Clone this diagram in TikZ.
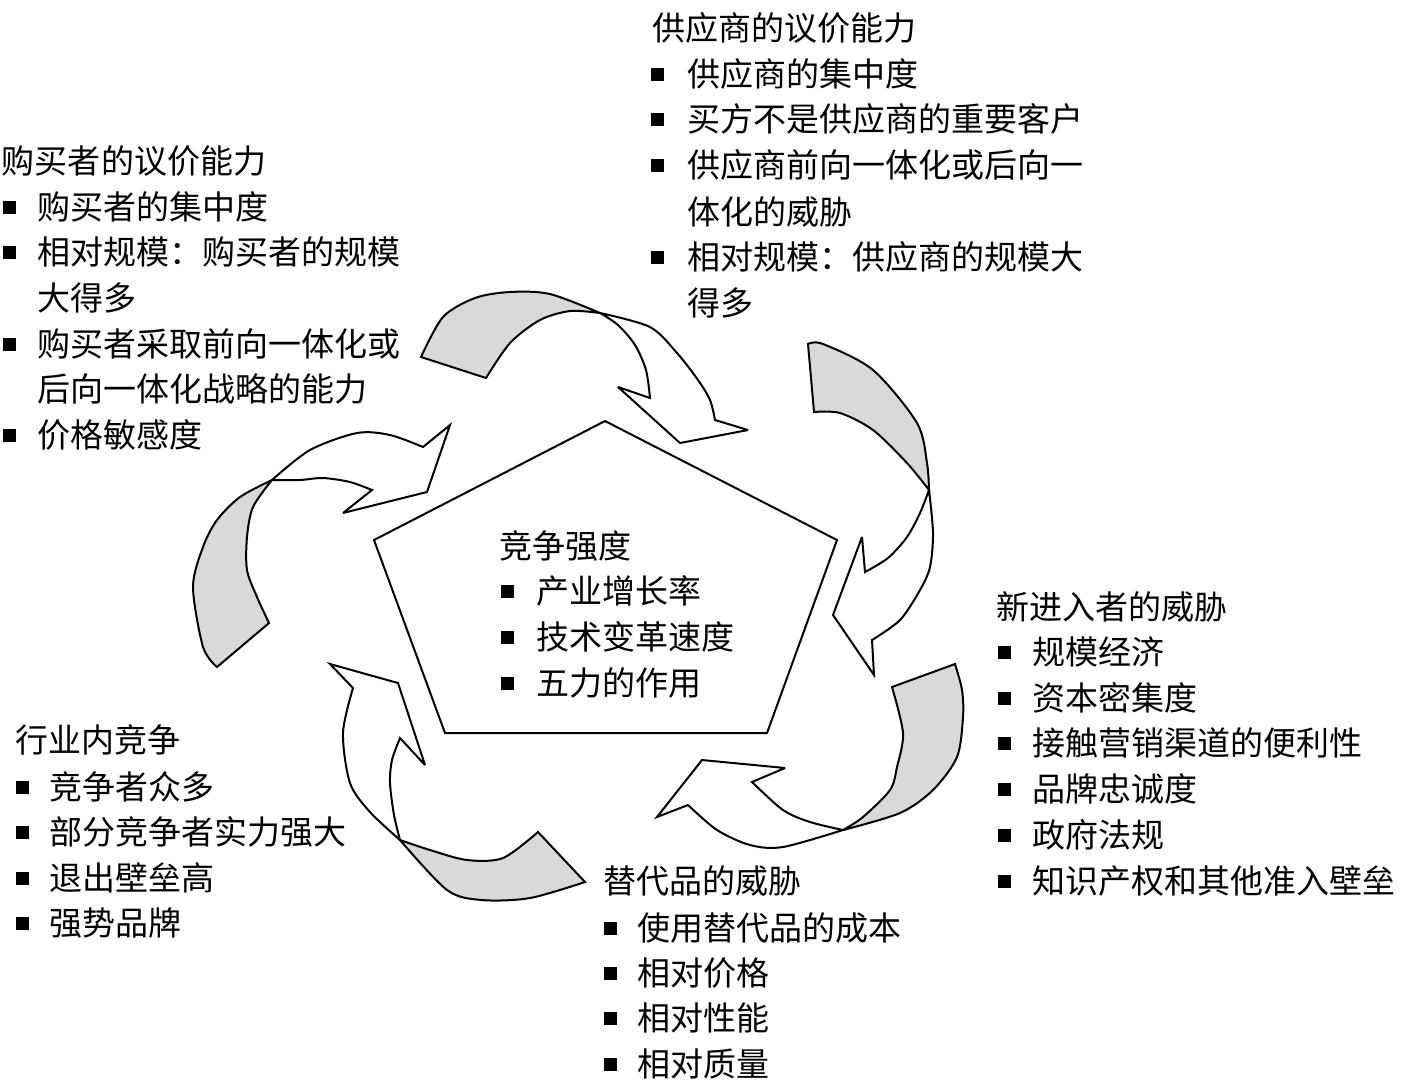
\documentclass[tikz,border=0pt]{standalone}
\usepackage{fontspec}
\setmainfont{Noto Sans CJK SC}
\definecolor{bandgrey}{RGB}{216,218,218}
\newcommand\sqb[1][17.5pt]{\makebox[#1][l]{\rule[3pt]{6.5pt}{6.5pt}}}
\begin{document}
\begin{tikzpicture}[x=0.5pt,y=-0.5pt,line width=1pt,miter limit=4,
  txt/.style={anchor=west,inner sep=0pt,font=\fontsize{16.5pt}{20pt}\selectfont,text height=14.5pt,text depth=2pt},
  band/.style={draw=black,fill=bandgrey},
  body/.style={draw=black,fill=white},
  pent/.style={draw=black}]
\useasboundingbox (0,0) rectangle (1406,1089);

% central pentagon
\coordinate (p1) at (605,421);
\coordinate (p2) at (837,540);
\coordinate (p3) at (767,733);
\coordinate (p4) at (445,733);
\coordinate (p5) at (374,540);
\draw[pent] (p1) -- (p2) -- (p3) -- (p4) -- (p5) -- cycle;

% arrow A (top)
\filldraw[band] (421,357) -- plot[smooth] coordinates {(421,357) (443,317) (475,298) (510,292) (550,294) (600,313)}
  -- plot[smooth] coordinates {(600,313) (570,311) (540,320) (510,343) (486,378)} -- cycle;
\filldraw[body] (600,313) -- plot[smooth] coordinates {(600,313) (650,327) (677,353) (698,380) (710,400) (715,420)}
  -- (748,430) -- (680,443) -- (618,387) -- (650,398)
  -- plot[smooth] coordinates {(650,398) (646,370) (635,345) (618,325) (600,313)} -- cycle;

% arrow B (right)
\filldraw[band] (808,344) -- plot[smooth] coordinates {(808,344) (823,344) (873,370) (917,423) (927,463) (929,490)}
  -- plot[smooth] coordinates {(929,490) (907,463) (873,430) (840,413) (814,412)} -- cycle;
\filldraw[body] (929,490) -- plot[smooth] coordinates {(929,490) (933,533) (930,567) (920,590) (900,620) (872,640)}
  -- (874,675) -- (833,615) -- (862,537) -- (865,572)
  -- plot[smooth] coordinates {(865,572) (888,558) (907,537) (920,513) (929,490)} -- cycle;

% arrow C (bottom right)
\filldraw[band] (955,664) -- plot[smooth] coordinates {(955,664) (962,690) (963,717) (957,757) (933,790) (900,813) (843,830)}
  -- plot[smooth] coordinates {(843,830) (863,817) (890,790) (897,767) (903,733) (892,687)} -- cycle;
\filldraw[body] (843,830) -- plot[smooth] coordinates {(843,830) (783,847) (750,845) (717,830) (688,805)}
  -- (657,817) -- (702,760) -- (785,768) -- (752,782)
  -- plot[smooth] coordinates {(752,782) (783,810) (810,822) (843,830)} -- cycle;

% arrow D (bottom left)
\filldraw[band] (538,832) -- plot[smooth] coordinates {(538,832) (503,858) (467,860) (430,850) (400,840)}
  -- plot[smooth] coordinates {(400,840) (447,890) (482,900) (530,898) (585,882)} -- cycle;
\filldraw[body] (400,840) -- plot[smooth] coordinates {(400,840) (370,812) (350,783) (343,733) (353,688)}
  -- (330,664) -- (398,683) -- (425,765) -- (400,738)
  -- plot[smooth] coordinates {(400,738) (392,760) (390,783) (394,815) (400,840)} -- cycle;

% arrow E (left)
\filldraw[band] (217,667) -- plot[smooth] coordinates {(217,667) (203,647) (193,587) (203,547) (217,520) (240,497) (272,480)}
  -- plot[smooth] coordinates {(272,480) (253,507) (247,537) (247,570) (257,597) (269,623)} -- cycle;
\filldraw[body] (272,480) -- plot[smooth] coordinates {(272,480) (310,450) (357,433) (390,435) (423,447)}
  -- (450,425) -- (427,492) -- (343,513) -- (372,490)
  -- plot[smooth] coordinates {(372,490) (350,482) (323,478) (300,480) (272,480)} -- cycle;

% supplier
\node[txt] (s0) at (651,28) {供应商的议价能力};
\node[txt] (s1) at (650,74) {\sqb[18.25pt]供应商的集中度};
\node[txt] (s2) at (650,119) {\sqb[18.25pt]买方不是供应商的重要客户};
\node[txt] (s3) at (650,165) {\sqb[18.25pt]供应商前向一体化或后向一};
\node[txt] (s3b) at (686,212) {体化的威胁};
\node[txt] (s4) at (650,257) {\sqb[18.25pt]相对规模：供应商的规模大};
\node[txt] (s4b) at (686,303) {得多};

% buyer
\node[txt] (b0) at (1,161) {购买者的议价能力};
\node[txt] (b1) at (2,207) {\sqb[17.25pt]购买者的集中度};
\node[txt] (b2) at (2,252) {\sqb[17.25pt]相对规模：购买者的规模};
\node[txt] (b2b) at (36,298) {大得多};
\node[txt] (b3) at (2,344) {\sqb[17.25pt]购买者采取前向一体化或};
\node[txt] (b3b) at (36,389) {后向一体化战略的能力};
\node[txt] (b4) at (2,435) {\sqb[17.25pt]价格敏感度};

% centre
\node[txt] (c0) at (498,546) {竞争强度};
\node[txt] (c1) at (500,591) {\sqb[17.75pt]产业增长率};
\node[txt] (c2) at (500,637) {\sqb[17.75pt]技术变革速度};
\node[txt] (c3) at (500,683) {\sqb[17.75pt]五力的作用};

% new entrants
\node[txt] (n0) at (995,607) {新进入者的威胁};
\node[txt] (n1) at (997,652) {\sqb[17.25pt]规模经济};
\node[txt] (n2) at (997,698) {\sqb[17.25pt]资本密集度};
\node[txt] (n3) at (997,743) {\sqb[17.25pt]接触营销渠道的便利性};
\node[txt] (n4) at (997,789) {\sqb[17.25pt]品牌忠诚度};
\node[txt] (n5) at (997,835) {\sqb[17.25pt]政府法规};
\node[txt] (n6) at (997,881) {\sqb[17.25pt]知识产权和其他准入壁垒};

% substitutes
\node[txt] (u0) at (602,881) {替代品的威胁};
\node[txt] (u1) at (603,928) {\sqb[16.75pt]使用替代品的成本};
\node[txt] (u2) at (603,973) {\sqb[16.75pt]相对价格};
\node[txt] (u3) at (603,1018) {\sqb[16.75pt]相对性能};
\node[txt] (u4) at (603,1064) {\sqb[16.75pt]相对质量};

% rivalry
\node[txt] (v0) at (14,740) {行业内竞争};
\node[txt] (v1) at (15,787) {\sqb[16.75pt]竞争者众多};
\node[txt] (v2) at (15,832) {\sqb[16.75pt]部分竞争者实力强大};
\node[txt] (v3) at (15,878) {\sqb[16.75pt]退出壁垒高};
\node[txt] (v4) at (15,923) {\sqb[16.75pt]强势品牌};
\end{tikzpicture}
\end{document}
